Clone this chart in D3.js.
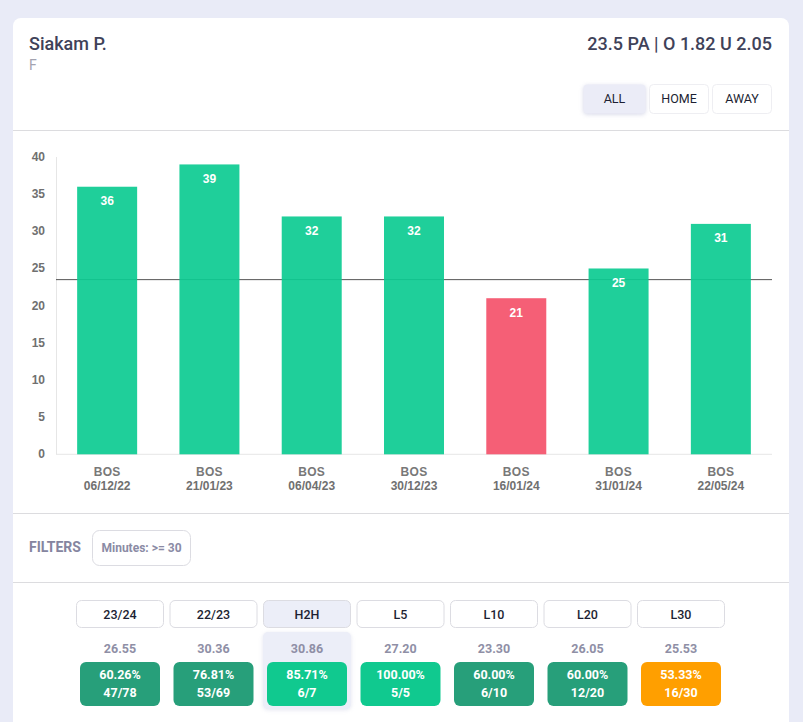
<!DOCTYPE html>
<html>
<head>
<meta charset="utf-8">
<script src="https://cdn.jsdelivr.net/npm/d3@7"></script>
<style>
    html, body { margin: 0; padding: 0; background: #e9ebf7; overflow: hidden; }
    svg { display: block; }
    text { font-family: Roboto, sans-serif; }
</style>
</head>
<body>
<svg id="chart" width="803" height="722"></svg>
<script>
const opponents = ["BOS", "BOS", "BOS", "BOS", "BOS", "BOS", "BOS"];
const dates = ["06/12/22", "21/01/23", "06/04/23", "30/12/23", "16/01/24", "31/01/24", "22/05/24"];
const points = [36, 39, 32, 32, 21, 25, 31];
const propLine = 23.5;
const yTicks = [0, 5, 10, 15, 20, 25, 30, 35, 40];

const sideButtons = ["ALL", "HOME", "AWAY"];

const periods = ["23/24", "22/23", "H2H", "L5", "L10", "L20", "L30"];
const averages = ["26.55", "30.36", "30.86", "27.20", "23.30", "26.05", "25.53"];
const hitRates = ["60.26%", "76.81%", "85.71%", "100.00%", "60.00%", "60.00%", "53.33%"];
const hitCounts = ["47/78", "53/69", "6/7", "5/5", "6/10", "12/20", "16/30"];
const tileColors = ["#279f7a", "#279f7a", "#10c98f", "#10c98f", "#279f7a", "#279f7a", "#ff9f00"];

const svg = d3.select("#chart");

/* card */
svg.append("rect")
    .attr("x", 13).attr("y", 18)
    .attr("width", 776).attr("height", 720)
    .attr("rx", 8)
    .style("fill", "#fff");

[130.5, 513.5, 582.5].forEach(y => {
    svg.append("line")
        .attr("x1", 13).attr("x2", 789)
        .attr("y1", y).attr("y2", y)
        .style("stroke", "#dcdcdf");
});

/* header */
svg.append("text")
    .text("Siakam P.")
    .attr("x", 29).attr("y", 50)
    .style("font-size", "18px").style("font-weight", 500)
    .style("fill", "#3f4259");

svg.append("text")
    .text("F")
    .attr("x", 29).attr("y", 70)
    .style("font-size", "14px")
    .style("fill", "#a3a3b0");

svg.append("text")
    .text("23.5 PA | O 1.82 U 2.05")
    .attr("x", 772).attr("y", 50)
    .attr("text-anchor", "end")
    .style("font-size", "18px").style("font-weight", 500)
    .style("fill", "#3f4259");

const sideX = [583, 649, 712];
const sideW = [63, 60, 60];
sideButtons.forEach((label, i) => {
    const active = i == 0;
    svg.append("rect")
        .attr("x", sideX[i] + 0.5).attr("y", 84.5)
        .attr("width", sideW[i] - 1).attr("height", 29)
        .attr("rx", 4)
        .style("fill", active ? "#ebecf7" : "#fff")
        .style("stroke", active ? "none" : "#eeeef2")
        .style("filter", active ? "drop-shadow(0 1px 2px rgba(120,125,180,0.3))" : null);
    svg.append("text")
        .text(label)
        .attr("x", sideX[i] + sideW[i] / 2).attr("y", 103)
        .attr("text-anchor", "middle")
        .style("font-size", "12.5px").style("font-weight", 400)
        .style("fill", "#1d1f33");
});

/* bar chart */
const x = d3.scaleBand()
    .domain(d3.range(points.length))
    .range([56, 772]);

const y = d3.scaleLinear()
    .domain([0, 40])
    .range([454.3, 157]);

const barW = 60;

svg.append("line")
    .attr("x1", 56.5).attr("x2", 56.5)
    .attr("y1", 157).attr("y2", 454.5)
    .style("stroke", "#e6e6e6");

svg.append("line")
    .attr("x1", 56).attr("x2", 772)
    .attr("y1", y(0)).attr("y2", y(0))
    .style("stroke", "#e6e6e6");

svg.append("line")
    .attr("x1", 56).attr("x2", 772)
    .attr("y1", y(propLine)).attr("y2", y(propLine))
    .style("stroke", "#555")
    .style("stroke-width", 1);

svg.selectAll(".ytick")
    .data(yTicks)
    .enter().append("text")
    .attr("class", "ytick")
    .text(d => d)
    .attr("x", 45).attr("y", d => y(d) + 4)
    .attr("text-anchor", "end")
    .style("font-family", "'Liberation Sans', sans-serif")
    .style("font-size", "12px").style("font-weight", "bold")
    .style("fill", "#707070");

svg.selectAll(".bar")
    .data(points)
    .enter().append("rect")
    .attr("class", "bar")
    .attr("x", (d, i) => x(i) + (x.bandwidth() - barW) / 2)
    .attr("y", d => y(d))
    .attr("width", barW)
    .attr("height", d => y(0) - y(d))
    .style("fill", d => d > propLine ? "#0ccb91" : "#f4516a")
    .style("fill-opacity", 0.92);

svg.selectAll(".barlabel")
    .data(points)
    .enter().append("text")
    .attr("class", "barlabel")
    .text(d => d)
    .attr("x", (d, i) => x(i) + x.bandwidth() / 2)
    .attr("y", d => y(d) + 18.5)
    .attr("text-anchor", "middle")
    .style("font-family", "'Liberation Sans', sans-serif")
    .style("font-size", "12px").style("font-weight", "bold")
    .style("fill", "#fff");

svg.selectAll(".opp")
    .data(opponents)
    .enter().append("text")
    .attr("class", "opp")
    .text(d => d)
    .attr("x", (d, i) => x(i) + x.bandwidth() / 2)
    .attr("y", 476)
    .attr("text-anchor", "middle")
    .style("font-family", "'Liberation Sans', sans-serif")
    .style("font-size", "12px").style("font-weight", "bold")
    .style("letter-spacing", "0.3px")
    .style("fill", "#787878");

svg.selectAll(".date")
    .data(dates)
    .enter().append("text")
    .attr("class", "date")
    .text(d => d)
    .attr("x", (d, i) => x(i) + x.bandwidth() / 2)
    .attr("y", 490)
    .attr("text-anchor", "middle")
    .style("font-family", "'Liberation Sans', sans-serif")
    .style("font-size", "12px").style("font-weight", "bold")
    .style("fill", "#707070");

/* filters */
svg.append("text")
    .text("FILTERS")
    .attr("x", 29).attr("y", 552)
    .style("font-size", "14px").style("font-weight", 700)
    .style("fill", "#85859f");

svg.append("rect")
    .attr("x", 92.5).attr("y", 530.5)
    .attr("width", 98).attr("height", 35)
    .attr("rx", 7)
    .style("fill", "#fff")
    .style("stroke", "#dcdce2");

svg.append("text")
    .text("Minutes: >= 30")
    .attr("x", 141.5).attr("y", 552)
    .attr("text-anchor", "middle")
    .style("font-size", "12px").style("font-weight", 700)
    .style("fill", "#8b8ba5");

/* period stats */
const col = d3.scalePoint()
    .domain(periods)
    .range([120, 681]);

svg.append("rect")
    .attr("x", 263).attr("y", 632)
    .attr("width", 88).attr("height", 77)
    .attr("rx", 5)
    .style("fill", "#eceef8")
    .style("filter", "drop-shadow(0 1px 2px rgba(120,125,180,0.2))");

periods.forEach((p, i) => {
    const cx = col(p);
    const active = p == "H2H";

    svg.append("rect")
        .attr("x", cx - 43.5).attr("y", 600.5)
        .attr("width", 87).attr("height", 27)
        .attr("rx", 5)
        .style("fill", active ? "#eceef8" : "#fff")
        .style("stroke", "#dcdce2");
    svg.append("text")
        .text(p)
        .attr("x", cx).attr("y", 618.5)
        .attr("text-anchor", "middle")
        .style("font-size", "12.5px").style("font-weight", 500)
        .style("fill", "#1d1f33");

    svg.append("text")
        .text(averages[i])
        .attr("x", cx).attr("y", 653)
        .attr("text-anchor", "middle")
        .style("font-size", "12.5px").style("font-weight", 700)
        .style("fill", "#8f8fa6");

    svg.append("rect")
        .attr("x", cx - 40).attr("y", 662)
        .attr("width", 80).attr("height", 44)
        .attr("rx", 6)
        .style("fill", tileColors[i]);
    svg.append("text")
        .text(hitRates[i])
        .attr("x", cx).attr("y", 679)
        .attr("text-anchor", "middle")
        .style("font-size", "12.5px").style("font-weight", 700)
        .style("fill", "#fff");
    svg.append("text")
        .text(hitCounts[i])
        .attr("x", cx).attr("y", 697)
        .attr("text-anchor", "middle")
        .style("font-size", "12.5px").style("font-weight", 700)
        .style("fill", "#fff");
});
</script>
</body>
</html>
